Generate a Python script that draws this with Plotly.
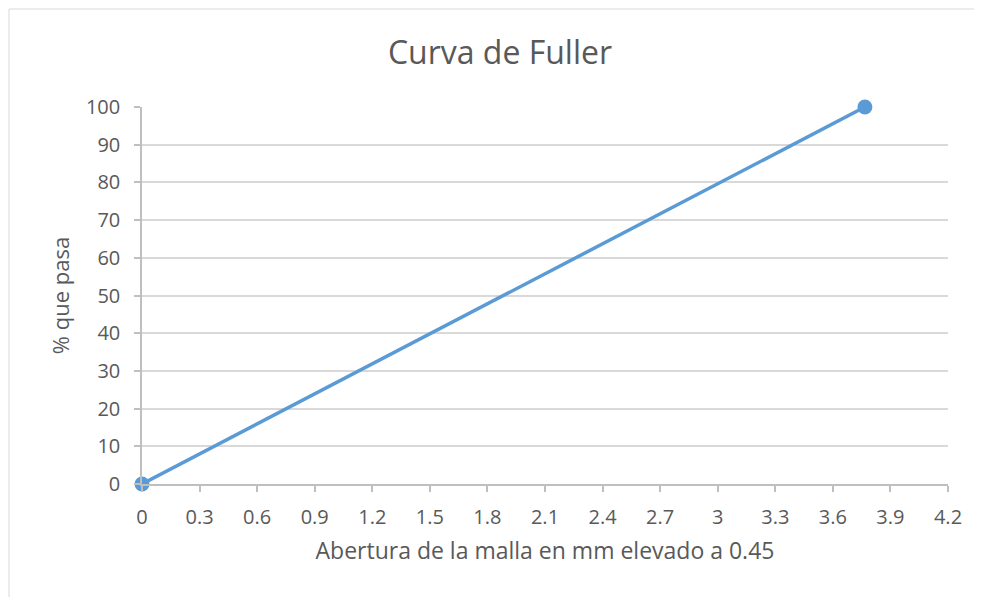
import plotly.graph_objects as go

# datos de la curva (abertura^0.45 vs % que pasa)
abertura_045 = [0, 3.767]
pct_pasa = [0, 100]

# la página deja 8 px de margen en el body, se descuenta aquí
OFF = 8
W, H = 982 - OFF, 597 - OFF
L, R, T, B = 142 - OFF, 34, 107 - OFF, 113
pw, ph = W - L - R, H - T - B

gris = "#595959"
azul = "#5B9BD5"
fuente = "Open Sans"

fig = go.Figure()
fig.add_trace(go.Scatter(
    x=abertura_045, y=pct_pasa, mode="lines+markers",
    line=dict(color=azul, width=3.5),
    marker=dict(color=azul, size=15),
    cliponaxis=False, showlegend=False,
))


def px_x(p):
    return (p - OFF - L) / pw


def px_y(p):
    return (H - B - (p - OFF)) / ph


fig.update_layout(
    width=W, height=H,
    margin=dict(l=L, r=R, t=T, b=B),
    paper_bgcolor="white", plot_bgcolor="white",
    font=dict(family=fuente, color=gris, size=20),
    title=dict(text="Curva de Fuller", x=(500 - OFF) / W, xanchor="center",
               y=1 - (53 - OFF) / H, yanchor="middle",
               font=dict(size=32, color=gris, family=fuente)),
    xaxis=dict(
        range=[0, 4.2], tickmode="linear", tick0=0, dtick=0.3,
        showgrid=False, zeroline=False,
        showline=True, linecolor="#BFBFBF", linewidth=1.5,
        ticks="outside", ticklen=6, tickcolor="#BFBFBF", tickwidth=1.5,
        ticklabelstandoff=8,
        tickfont=dict(size=20, color=gris),
        title=dict(text="Abertura de la malla en mm elevado a 0.45",
                   font=dict(size=23, color=gris), standoff=14),
    ),
    yaxis=dict(
        range=[0, 100], tickmode="linear", tick0=0, dtick=10,
        showgrid=True, gridcolor="#D9D9D9", gridwidth=1.5, zeroline=False,
        showline=True, linecolor="#BFBFBF", linewidth=1.5,
        ticks="outside", ticklen=6, tickcolor="#BFBFBF", tickwidth=1.5,
        ticklabelstandoff=10,
        tickfont=dict(size=20, color=gris),
        title=dict(text="% que pasa", font=dict(size=22, color=gris), standoff=10),
    ),
    shapes=[dict(
        type="rect", xref="paper", yref="paper",
        x0=px_x(OFF + 1), x1=px_x(982 + 10), y0=px_y(597 + 10), y1=px_y(OFF + 1),
        line=dict(color="#D9D9D9", width=1), layer="below",
    )],
)

fig.write_html("out.html")
